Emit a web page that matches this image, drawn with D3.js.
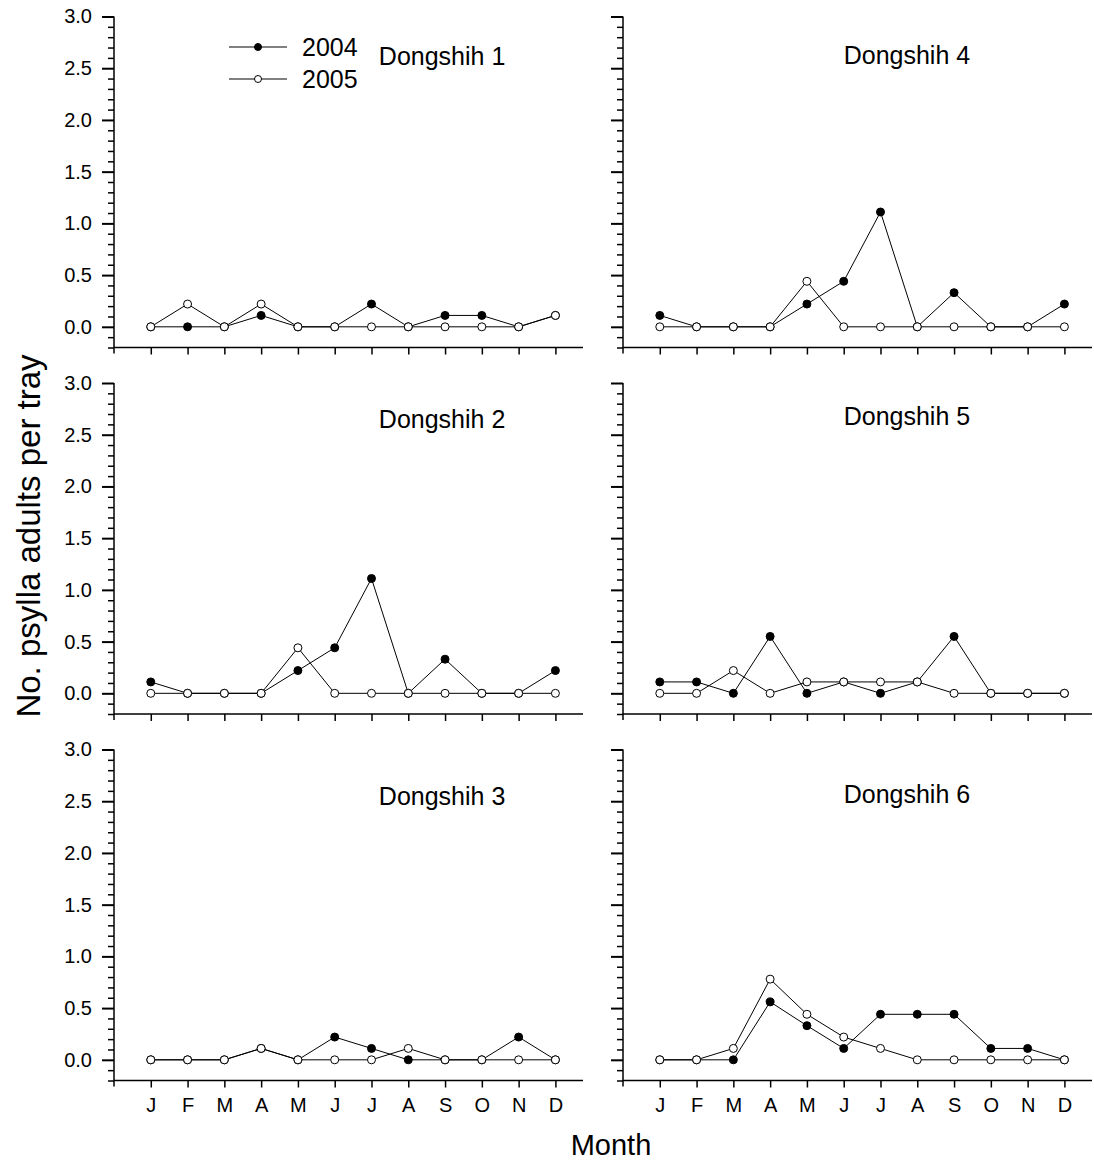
<!DOCTYPE html>
<html>
<head>
<meta charset="utf-8">
<script src="https://cdn.jsdelivr.net/npm/d3@7"></script>
<style>
  body { margin: 0; background: #fff; }
  svg { display: block; font-family: "Liberation Sans", Arial, sans-serif; }
</style>
</head>
<body>
<svg id="chart"></svg>
<script>
// month labels
const months = ['J', 'F', 'M', 'A', 'M', 'J', 'J', 'A', 'S', 'O', 'N', 'D']
const years = ['2004', '2005']

// site names, in panel order (left column then right column)
const sites = ['Dongshih 1', 'Dongshih 2', 'Dongshih 3', 'Dongshih 4', 'Dongshih 5', 'Dongshih 6']

// no. psylla adults per tray
const site1_2004 = [0, 0, 0, 0.11, 0, 0, 0.22, 0, 0.11, 0.11, 0, 0.11]
const site1_2005 = [0, 0.22, 0, 0.22, 0, 0, 0, 0, 0, 0, 0, 0.11]
const site2_2004 = [0.11, 0, 0, 0, 0.22, 0.44, 1.11, 0, 0.33, 0, 0, 0.22]
const site2_2005 = [0, 0, 0, 0, 0.44, 0, 0, 0, 0, 0, 0, 0]
const site3_2004 = [0, 0, 0, 0.11, 0, 0.22, 0.11, 0, 0, 0, 0.22, 0]
const site3_2005 = [0, 0, 0, 0.11, 0, 0, 0, 0.11, 0, 0, 0, 0]
const site4_2004 = [0.11, 0, 0, 0, 0.22, 0.44, 1.11, 0, 0.33, 0, 0, 0.22]
const site4_2005 = [0, 0, 0, 0, 0.44, 0, 0, 0, 0, 0, 0, 0]
const site5_2004 = [0.11, 0.11, 0, 0.55, 0, 0.11, 0, 0.11, 0.55, 0, 0, 0]
const site5_2005 = [0, 0, 0.22, 0, 0.11, 0.11, 0.11, 0.11, 0, 0, 0, 0]
const site6_2004 = [0, 0, 0, 0.56, 0.33, 0.11, 0.44, 0.44, 0.44, 0.11, 0.11, 0]
const site6_2005 = [0, 0, 0.11, 0.78, 0.44, 0.22, 0.11, 0, 0, 0, 0, 0]

const series2004 = [site1_2004, site2_2004, site3_2004, site4_2004, site5_2004, site6_2004]
const series2005 = [site1_2005, site2_2005, site3_2005, site4_2005, site5_2005, site6_2005]

const yMajor = [0, 0.5, 1.0, 1.5, 2.0, 2.5, 3.0]

const width = 1094
const height = 1160

// panel layout
const colX = [114, 623]
const rowY = [16.5, 383, 749.5]
const panelW = 469
const panelH = 331
const titleDx = [6.2, 5.0]          // in month units, per column
const titleDy = [48, 45, 55, 47, 42, 53]

const svg = d3.select('#chart')
    .attr('width', width)
    .attr('height', height)

const x = d3.scaleLinear().domain([-1, 11.75]).range([0, panelW])
const y = d3.scaleLinear().domain([-0.2, 3.0]).range([panelH, 0])

const line = d3.line()
    .x((d, i) => x(i))
    .y((d) => y(d))

sites.forEach((name, k) => {
    const col = Math.floor(k / 3)
    const row = k % 3
    const g = svg.append('g')
        .attr('transform', `translate(${colX[col]},${rowY[row]})`)

    // y axis: minor ticks every 0.1, major every 0.5
    const minor = d3.range(-2, 31).map((v) => v / 10).filter((v) => !yMajor.some((m) => Math.abs(m - v) < 1e-6))
    g.append('g')
        .call(d3.axisLeft(y).tickValues(minor).tickSize(6).tickFormat(''))
        .call((a) => a.select('.domain').remove())
        .selectAll('line').attr('stroke', '#000').attr('stroke-width', 1.5)

    const ya = g.append('g')
        .call(d3.axisLeft(y).tickValues(yMajor).tickSize(12).tickPadding(10)
            .tickFormat(col === 0 ? d3.format('.1f') : () => ''))
    ya.select('.domain').remove()
    ya.selectAll('line').attr('stroke', '#000').attr('stroke-width', 2)
    ya.selectAll('text').attr('font-size', 20).attr('fill', '#000')
        .attr('font-family', '"Liberation Sans", Arial, sans-serif')

    g.append('line')
        .attr('x1', 0).attr('x2', 0)
        .attr('y1', y(3.0)).attr('y2', panelH + 6)
        .attr('stroke', '#000').attr('stroke-width', 1.5)

    // x axis
    const xa = g.append('g')
        .attr('transform', `translate(0,${panelH})`)
        .call(d3.axisBottom(x).tickValues(d3.range(0, 12)).tickSize(7).tickPadding(10)
            .tickFormat((d) => (row === 2 ? months[d] : '')))
    xa.select('.domain').attr('d', `M0,0H${panelW}`).attr('stroke', '#000').attr('stroke-width', 1.5)
    xa.selectAll('line').attr('stroke', '#000').attr('stroke-width', 1.5)
    xa.selectAll('text').attr('font-size', 20).attr('fill', '#000')
        .attr('font-family', '"Liberation Sans", Arial, sans-serif')

    // lines, 2004 filled markers underneath 2005 open markers
    const s04 = series2004[k]
    const s05 = series2005[k]
    g.append('path').datum(s04).attr('d', line)
        .attr('fill', 'none').attr('stroke', '#000').attr('stroke-width', 1)
    g.append('path').datum(s05).attr('d', line)
        .attr('fill', 'none').attr('stroke', '#000').attr('stroke-width', 1)

    g.append('g').selectAll('circle').data(s04).join('circle')
        .attr('cx', (d, i) => x(i)).attr('cy', (d) => y(d)).attr('r', 4)
        .attr('fill', '#000').attr('stroke', '#000').attr('stroke-width', 1)
    g.append('g').selectAll('circle').data(s05).join('circle')
        .attr('cx', (d, i) => x(i)).attr('cy', (d) => y(d)).attr('r', 4)
        .attr('fill', '#fff').attr('stroke', '#000').attr('stroke-width', 1)

    // panel title
    g.append('text')
        .attr('x', x(titleDx[col]))
        .attr('y', titleDy[k])
        .attr('font-size', 25)
        .text(name)
})

// legend in first panel
const leg = svg.append('g')
const legY = [47, 79]
years.forEach((yr, i) => {
    leg.append('line')
        .attr('x1', 229).attr('x2', 287)
        .attr('y1', legY[i]).attr('y2', legY[i])
        .attr('stroke', '#000').attr('stroke-width', 1)
    leg.append('circle')
        .attr('cx', 258).attr('cy', legY[i]).attr('r', 3.5)
        .attr('fill', i === 0 ? '#000' : '#fff')
        .attr('stroke', '#000').attr('stroke-width', 1)
    leg.append('text')
        .attr('x', 302).attr('y', legY[i]).attr('dy', '0.36em')
        .attr('font-size', 25)
        .text(yr)
})

// axis titles
svg.append('text')
    .attr('transform', 'translate(40,536) rotate(-90)')
    .attr('text-anchor', 'middle')
    .attr('font-size', 33)
    .text('No. psylla adults per tray')

svg.append('text')
    .attr('x', 611).attr('y', 1155)
    .attr('text-anchor', 'middle')
    .attr('font-size', 29)
    .text('Month')
</script>
</body>
</html>
